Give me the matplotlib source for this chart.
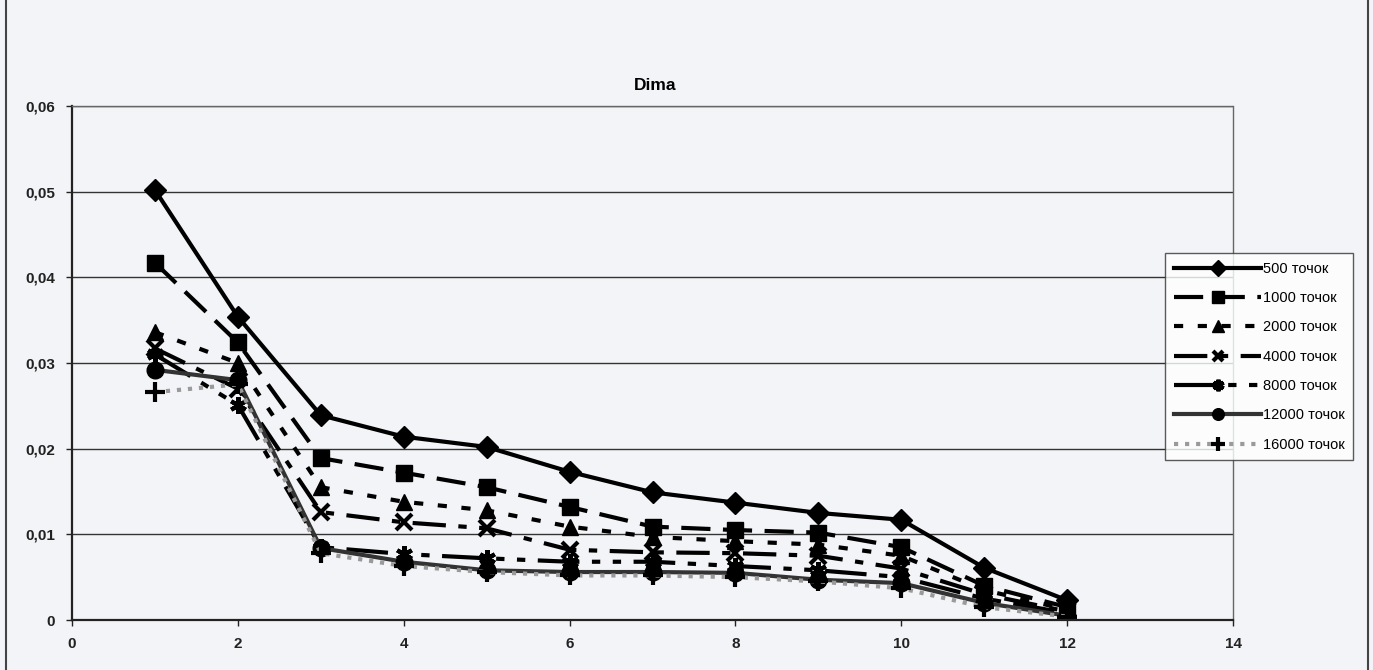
import matplotlib
matplotlib.use("Agg")
import matplotlib.pyplot as plt
from matplotlib.lines import Line2D

x = [1, 2, 3, 4, 5, 6, 7, 8, 9, 10, 11, 12]
s500 = [0.0502, 0.0354, 0.0239, 0.0214, 0.0202, 0.0173, 0.0149, 0.0137, 0.0125, 0.0117, 0.0061, 0.0023]
s1000 = [0.0417, 0.0324, 0.0189, 0.0172, 0.0155, 0.0132, 0.0109, 0.0105, 0.0102, 0.0085, 0.0040, 0.0015]
s2000 = [0.0336, 0.0300, 0.0155, 0.0138, 0.0128, 0.0109, 0.0097, 0.0092, 0.0088, 0.0075, 0.0035, 0.0012]
s4000 = [0.0317, 0.0270, 0.0126, 0.0114, 0.0107, 0.0082, 0.0079, 0.0078, 0.0075, 0.0060, 0.0030, 0.0010]
s8000 = [0.0310, 0.0251, 0.0085, 0.0077, 0.0072, 0.0068, 0.0068, 0.0063, 0.0058, 0.0050, 0.0025, 0.0008]
s12000 = [0.0292, 0.0280, 0.0084, 0.0068, 0.0058, 0.0056, 0.0056, 0.0055, 0.0047, 0.0043, 0.0020, 0.0005]
s16000 = [0.0266, 0.0275, 0.0078, 0.0063, 0.0056, 0.0052, 0.0052, 0.0050, 0.0045, 0.0037, 0.0015, 0.0004]
labels = ["500 точок", "1000 точок", "2000 точок", "4000 точок", "8000 точок", "12000 точок", "16000 точок"]
x_ticks = [0, 2, 4, 6, 8, 10, 12, 14]
y_ticks = [0, 0.01, 0.02, 0.03, 0.04, 0.05, 0.06]
y_tick_labels = ["0", "0,01", "0,02", "0,03", "0,04", "0,05", "0,06"]

plt.rcParams['font.family'] = ['Liberation Sans', 'DejaVu Sans']
bg = '#f3f4f7'
fig = plt.figure(figsize=(13.73, 6.70), dpi=100, facecolor=bg)
ax = fig.add_axes([72/1373, 1-620/670, (1233-72)/1373, (620-106)/670])
ax.set_facecolor(bg)

series = [s500, s1000, s2000, s4000, s8000, s12000, s16000]
styles = [
    dict(color='black', lw=3, ls='-', marker='D', ms=11, mfc='black', mec='black'),
    dict(color='black', lw=3, dashes=(7, 3), marker='s', ms=12, mfc='black', mec='black'),
    dict(color='black', lw=3, dashes=(2.2, 3.5), marker='^', ms=12, mfc='black', mec='black'),
    dict(color='black', lw=3, dashes=(8, 3, 2, 3), marker='x', ms=11, mew=3, mec='black'),
    dict(color='black', lw=3, dashes=(10, 3, 2, 3, 2, 3), marker=(6, 2, 0), ms=12, mew=3, mec='black'),
    dict(color='#333333', lw=3, ls='-', marker='o', ms=12, mfc='black', mec='black'),
    dict(color='#9a9a9a', lw=3, ls=':', marker='+', ms=14, mew=3, mec='black'),
]
for s, st, lab in zip(series, styles, labels):
    ax.plot(x, s, label=lab, **st)

ax.set_xlim(0, 14)
ax.set_ylim(0, 0.06)
ax.set_xticks(x_ticks)
ax.set_xticklabels([str(v) for v in x_ticks], fontsize=11, fontweight='bold', color='#222222')
ax.set_yticks(y_ticks)
ax.set_yticklabels(y_tick_labels, fontsize=11, fontweight='bold', color='#222222')
ax.tick_params(direction='out', length=4, width=1, colors='#222222', pad=8)
ax.yaxis.grid(True, color='#333333', lw=1)
ax.set_axisbelow(True)
for side in ['left', 'bottom']:
    ax.spines[side].set_linewidth(1.6)
    ax.spines[side].set_color('#222222')
for side in ['top', 'right']:
    ax.spines[side].set_linewidth(1)
    ax.spines[side].set_color('#666666')
    ax.spines[side].set_linestyle((0, (3, 1)))

fig.text(655/1373, 1-85/670, "Dima", ha='center', va='center', fontsize=12.5, fontweight='bold')

leg = ax.legend(loc='upper left', bbox_to_anchor=(1165/1373, 1-253/670),
                bbox_transform=fig.transFigure, fontsize=10.5, handlelength=6.0,
                handletextpad=0.1, labelspacing=1.05, borderpad=0.6, markerscale=0.7,
                frameon=True, fancybox=False, edgecolor='#333333', facecolor='white',
                borderaxespad=0)
leg.get_frame().set_linewidth(1)

fig.add_artist(Line2D([6/1373, 6/1373], [0, 1], transform=fig.transFigure, color='#444444', lw=1.5))
fig.add_artist(Line2D([1368/1373, 1368/1373], [0, 1], transform=fig.transFigure, color='#444444', lw=1.5))

fig.savefig("out.png", dpi=100, facecolor=bg)
